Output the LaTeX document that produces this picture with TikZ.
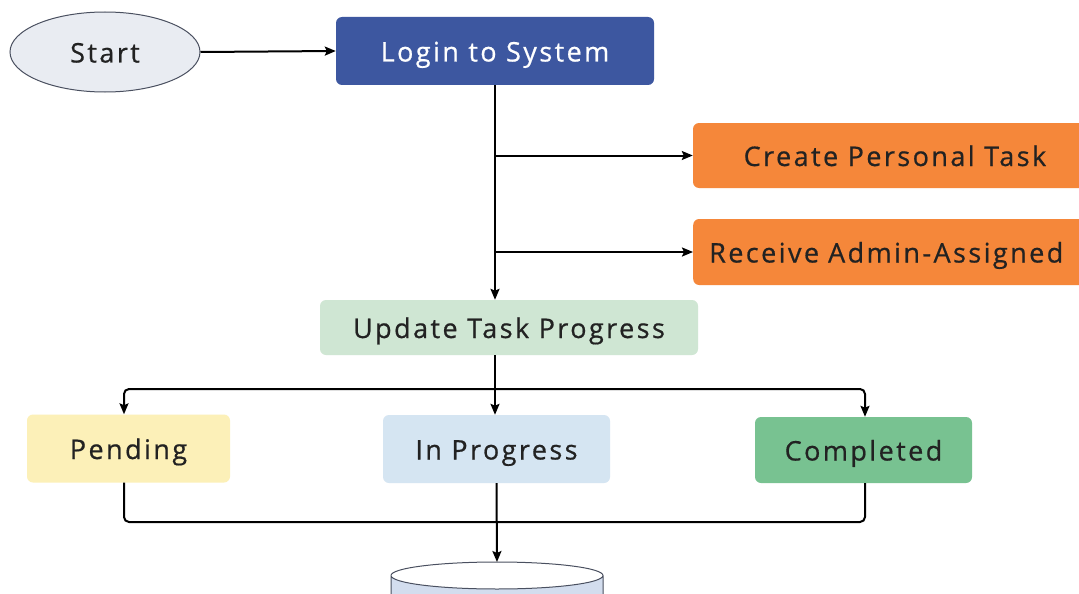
\documentclass[tikz,border=0pt]{standalone}
\usepackage{fontspec}
\setmainfont{Open Sans}[LetterSpace=9, FakeBold=0.6]
\usetikzlibrary{arrows.meta,shapes.geometric}
\definecolor{loginblue}{HTML}{3D57A0}
\definecolor{orangebox}{HTML}{F5873A}
\definecolor{updgreen}{HTML}{CFE6D3}
\definecolor{pendyel}{HTML}{FCF0B8}
\definecolor{progblue}{HTML}{D5E5F2}
\definecolor{compgreen}{HTML}{78C291}
\definecolor{startgray}{HTML}{E9ECF2}
\definecolor{dbblue}{HTML}{D3DDEE}
\definecolor{txt}{HTML}{222222}
\definecolor{edgegray}{HTML}{4A5060}
\begin{document}
\begin{tikzpicture}[x=1pt,y=-1pt,
  lbl/.style={font=\fontsize{27}{32}\selectfont, text=txt, text height=25pt, text depth=4pt},
  box/.style={lbl, rectangle, rounded corners=6pt, inner sep=0pt},
  conn/.style={line width=2pt, -{Stealth[length=11pt,width=9pt,inset=2pt]}},
  wire/.style={line width=2pt, rounded corners=5pt}]
\useasboundingbox (0,0) rectangle (1079,594);
\clip (0,0) rectangle (1079,594);
\fill[white] (0,0) rectangle (1079,594);

% nodes
\node[lbl, ellipse, draw=edgegray, line width=1pt, fill=startgray, minimum width=190pt, minimum height=80pt, inner sep=0pt] (start) at (105,52) {Start};
\node[box, fill=loginblue, text=white, minimum width=318pt, minimum height=68pt] (login) at (495,51) {Login to System};
\node[box, fill=orangebox, minimum width=404pt, minimum height=65pt] (create) at (895,155.5) {Create Personal Task};
\node[box, fill=orangebox, minimum height=66pt, anchor=west, align=left, text width=388pt, inner xsep=16pt] (recv) at (693,252) {Receive Admin-Assigned};
\node[box, fill=updgreen, minimum width=378pt, minimum height=55pt] (update) at (509,327.5) {Update Task Progress};
\node[box, fill=pendyel, minimum width=203pt, minimum height=68pt] (pend) at (128.5,448.5) {Pending};
\node[box, fill=progblue, minimum width=227pt, minimum height=68pt] (prog) at (496.5,449) {In Progress};
\node[box, fill=compgreen, minimum width=217pt, minimum height=66pt] (comp) at (863.5,450) {Completed};

% database cylinder
\coordinate (dbtop) at (497,562);
\fill[dbblue] (391,575.5) -- (391,620) -- (603,620) -- (603,575.5) arc[start angle=0, end angle=180, x radius=106, y radius=13.5] -- cycle;
\draw[edgegray, line width=1pt] (391,620) -- (391,575.5) arc[start angle=180, end angle=540, x radius=106, y radius=13.5] (603,575.5) -- (603,620);

% helper coordinates
\coordinate (xl) at (124,0);
\coordinate (xr) at (865,0);
\coordinate (ybr) at (0,389);
\coordinate (ybot) at (0,522);

% connectors
\draw[conn] (start.east) -- (login.west);
\draw[conn] (login.south) -- (login.south |- update.north);
\draw[conn] (login.south |- create.west) -- (create.west);
\draw[conn] (login.south |- recv.west) -- (recv.west);

\draw[line width=2pt] (update.south -| login.south) -- (login.south |- ybr);
\draw[conn, rounded corners=5pt] (login.south |- ybr) -- (xl |- ybr) -- (xl |- pend.north);
\draw[conn, rounded corners=5pt] (login.south |- ybr) -- (xr |- ybr) -- (xr |- comp.north);
\draw[conn] (login.south |- ybr) -- (prog.north -| login.south);

\draw[wire] (xl |- pend.south) -- (xl |- ybot) -- (xr |- ybot) -- (xr |- comp.south);
\draw[conn] (prog.south) -- (dbtop);
\end{tikzpicture}
\end{document}
